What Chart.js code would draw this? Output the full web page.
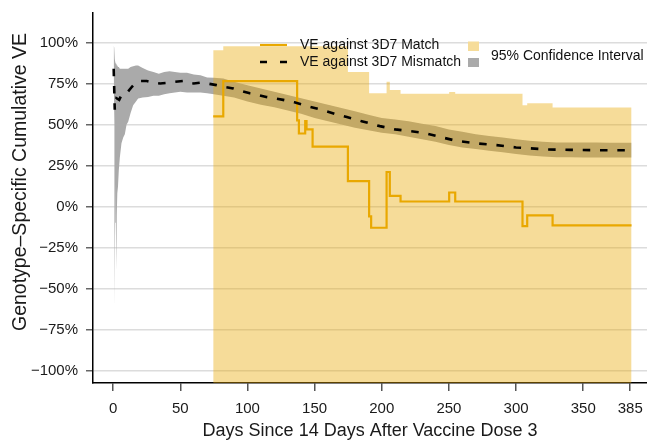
<!DOCTYPE html>
<html>
<head>
<meta charset="utf-8">
<script src="https://cdn.jsdelivr.net/npm/chart.js@4"></script>
<style>
  html, body { margin: 0; padding: 0; background: #fff; }
  #wrap { width: 647px; height: 442px; }
</style>
</head>
<body>
<div id="wrap"><canvas id="veChart" width="647" height="442"></canvas></div>
<script>
// axis ticks
const xTicks = [0, 50, 100, 150, 200, 250, 300, 350, 385];
const yTicks = [-100, -75, -50, -25, 0, 25, 50, 75, 100];

// VE against 3D7 match (step line, value holds until the next day)
const matchDays = [74.5, 82, 137, 138.3, 143, 144, 148.5, 174.8, 190.6, 192.1, 203.6, 206, 214, 250.2, 254.7, 304.8, 308.3, 327.2, 386];
const matchVE   = [55, 76.5, 52.5, 44.5, 52, 47, 36.5, 15.5, -6, -13, 21, 6.5, 3, 8.5, 3, -12, -5.5, -11.5, -11.5];

// 95% CI upper edge for the match estimate (lower edge is off the chart)
const matchCIDays = [74.5, 82, 174.8, 190.6, 203.6, 206, 214, 250.2, 254.7, 304.8, 308.3, 327.2, 386];
const matchCIHigh = [95.3, 97.7, 82, 69, 76, 71, 68.7, 69.8, 68.7, 61.8, 63, 60.4, 60.4];
const matchCILow = -130;

// VE against 3D7 mismatch (dashed line)
const mismatchDays = [0.4, 1.2, 1.6, 2.5, 4.5, 6.2, 8, 11, 14, 17.4, 20, 25, 30, 35, 41, 46, 52, 56, 60, 65, 70, 77, 82, 89.4, 95, 101.8, 108, 114, 120, 126.6, 135, 145, 155, 165, 174, 185, 198.6, 210, 220, 230.8, 243, 255.7, 270, 285.5, 300, 322.7, 340, 360, 385];
const mismatchVE   = [84, 59, 62, 66, 65, 68, 68, 70, 73, 76, 76.5, 76.5, 75.5, 75, 75.5, 76, 76.5, 75.5, 75, 75.5, 75, 74, 73, 72, 70.5, 69, 68, 66.8, 66, 65, 63.5, 61, 59, 56.5, 54.6, 52, 49, 47, 46, 45, 42.5, 40, 38.5, 37.4, 36, 34.8, 34.5, 34.3, 34.3];

// 95% CI band for the mismatch estimate
const mismatchCIDays = [0.4, 0.8, 1.1, 1.3, 1.6, 2.0, 2.4, 2.7, 3.1, 3.6, 4.2, 5, 6.2, 7.5, 8.7, 10, 11.2, 13, 14.9, 17, 18.6, 22, 26, 30, 34, 38, 42, 46, 50, 55, 60, 65, 70, 75, 82, 90, 100, 110, 120, 130, 140, 150, 160, 170, 180, 190, 200, 210, 220, 230, 240, 250, 260, 270, 280, 290, 300, 310, 320, 330, 340, 350, 360, 370, 386];
const mismatchCIHigh = [98, 97, 95, 90, 88, 87, 87, 86, 86, 85, 85, 84, 84, 84, 84, 84, 84, 85, 85.5, 86, 86, 84.5, 83, 82, 81, 82, 82.5, 82, 81.5, 81.5, 80.5, 80, 78.7, 78.5, 78, 76, 74, 72, 70, 68, 66, 64, 62, 60, 58, 56, 54, 53, 52, 50.5, 49, 47, 45.5, 44, 43, 42, 41, 40, 39.5, 39, 39, 39, 39, 38.8, 38.8];
const mismatchCILow  = [78, 50, -63, -20, 15, -10, -39, -5, 8, 12, 22, 30, 38.6, 42, 44, 50, 51.6, 57, 61.8, 64, 65.9, 66.5, 66.8, 67.5, 67.5, 68.5, 69, 69.5, 70, 69.5, 69.5, 69.5, 69, 68.5, 67.5, 66.5, 64, 62, 60.5, 58.5, 56.5, 54, 52, 50, 48, 46.5, 45, 44, 42.5, 41, 39.5, 37.5, 36, 35, 34, 33, 32, 31, 30.5, 30, 30, 29.8, 29.8, 29.8, 29.9];

const ORANGE = '#E9A800';
const CI_YELLOW = 'rgba(232, 167, 0, 0.4)';
const CI_GREY = '#AAAAAA';
const FONT = '"Liberation Sans", Arial, Helvetica, sans-serif';

Chart.defaults.font.family = FONT;

function pts(xs, ys) {
    return xs.map((x, i) => ({ x: x, y: ys[i] }));
}

// keep the plot area fixed: no extra room for edge labels
function noPadding(s) {
    s.paddingLeft = 0;
    s.paddingRight = 0;
    s.paddingTop = 0;
    s.paddingBottom = 0;
}

// legend and y title drawn by hand to match the original layout
const legendPlugin = {
    id: 'customLegend',
    afterDraw(chart) {
        const c = chart.ctx;
        c.save();
        c.font = '14px ' + FONT;
        c.fillStyle = '#111';
        c.textBaseline = 'middle';
        c.textAlign = 'left';

        c.strokeStyle = ORANGE;
        c.lineWidth = 2.2;
        c.beginPath();
        c.moveTo(260, 45);
        c.lineTo(287, 45);
        c.stroke();
        c.fillText('VE against 3D7 Match', 300, 45);

        c.strokeStyle = '#000';
        c.lineWidth = 2.6;
        c.setLineDash([7, 13]);
        c.beginPath();
        c.moveTo(260, 62);
        c.lineTo(287, 62);
        c.stroke();
        c.setLineDash([]);
        c.fillText('VE against 3D7 Mismatch', 300, 62);

        c.fillStyle = '#F6DC99';
        c.fillRect(468, 41.5, 11, 9.5);
        c.fillStyle = CI_GREY;
        c.fillRect(468, 58, 11, 9);
        c.fillStyle = '#111';
        c.fillText('95% Confidence Interval', 491, 56);

        // y axis title
        c.translate(21, 182);
        c.rotate(-Math.PI / 2);
        c.textAlign = 'center';
        c.font = '19.5px ' + FONT;
        c.fillStyle = '#1a1a1a';
        c.fillText('Genotype\u2013Specific Cumulative VE', 0, 0);
        c.restore();
    }
};

const ctx = document.getElementById('veChart').getContext('2d');
const chart = new Chart(ctx, {
    type: 'line',
    data: {
        datasets: [
            {
                label: 'mismatch CI low',
                data: pts(mismatchCIDays, mismatchCILow),
                borderWidth: 0,
                pointRadius: 0,
                fill: false,
                order: 6
            },
            {
                label: 'mismatch CI high',
                data: pts(mismatchCIDays, mismatchCIHigh),
                borderWidth: 0,
                pointRadius: 0,
                backgroundColor: CI_GREY,
                fill: '-1',
                order: 5
            },
            {
                label: 'match CI',
                data: pts(matchCIDays, matchCIHigh),
                stepped: 'before',
                borderWidth: 0,
                pointRadius: 0,
                backgroundColor: CI_YELLOW,
                fill: { value: matchCILow },
                order: 4
            },
            {
                label: 'VE against 3D7 Match',
                data: pts(matchDays, matchVE),
                stepped: 'before',
                borderColor: ORANGE,
                borderWidth: 2.2,
                pointRadius: 0,
                fill: false,
                order: 3
            },
            {
                label: 'VE against 3D7 Mismatch',
                data: pts(mismatchDays, mismatchVE),
                borderColor: '#000',
                borderWidth: 2.6,
                borderDash: [7.5, 9.8],
                pointRadius: 0,
                fill: false,
                order: 2
            }
        ]
    },
    options: {
        responsive: false,
        animation: false,
        layout: { padding: { top: 13, left: 0, right: 0, bottom: 0 } },
        plugins: {
            legend: { display: false },
            tooltip: { enabled: false }
        },
        scales: {
            x: {
                type: 'linear',
                min: -15,
                max: 397.5,
                afterBuildTicks: s => { s.ticks = xTicks.map(v => ({ value: v })); },
                afterFit: s => { s.height = 59; noPadding(s); },
                ticks: {
                    autoSkip: false,
                    maxRotation: 0,
                    padding: 9,
                    color: '#1a1a1a',
                    font: { size: 15 },
                    callback: v => String(v)
                },
                grid: {
                    drawOnChartArea: false,
                    tickLength: 8,
                    tickColor: '#555',
                    lineWidth: 1.5
                },
                border: { color: '#000', width: 1.5 },
                title: {
                    display: true,
                    text: 'Days Since 14 Days After Vaccine Dose 3',
                    color: '#1a1a1a',
                    font: { size: 18 },
                    padding: { top: 0, bottom: 0 }
                }
            },
            y: {
                type: 'linear',
                min: -107.7,
                max: 118,
                afterBuildTicks: s => { s.ticks = yTicks.map(v => ({ value: v })); },
                afterFit: s => { s.width = 93; noPadding(s); },
                ticks: {
                    padding: 8,
                    color: '#1a1a1a',
                    font: { size: 15 },
                    callback: v => (v < 0 ? '\u2212' : '') + Math.abs(v) + '%'
                },
                grid: {
                    color: '#DCDCDC',
                    lineWidth: 1.5,
                    tickLength: 7,
                    tickColor: '#666'
                },
                border: { color: '#000', width: 1.5 }
            }
        }
    },
    plugins: [legendPlugin]
});
</script>
</body>
</html>
